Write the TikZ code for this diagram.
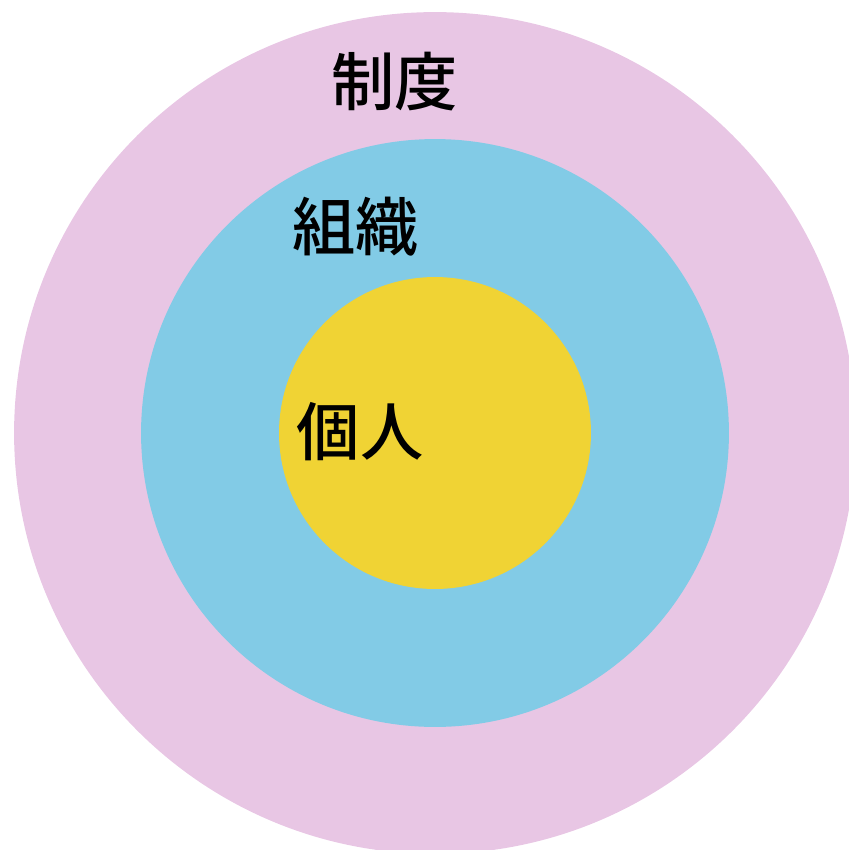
\documentclass[tikz,border=0pt]{standalone}
\usepackage{fontspec}
\newfontfamily\cjk{Noto Sans CJK JP Medium}
\definecolor{seidopink}{HTML}{E8C6E4}
\definecolor{soshikiblue}{HTML}{82CBE6}
\definecolor{kojinyellow}{HTML}{F0D334}

\begin{document}
\begin{tikzpicture}[x=0.02cm, y=-0.02cm, ring/.style = {circle, inner sep=0pt}, label/.style = {font=\cjk\fontsize{36}{40}\selectfont}]
      \useasboundingbox (0,0) rectangle (849,850);
      \begin{scope}
      \clip (0,0) rectangle (849,850);
      \node[ring, fill=seidopink, minimum size=16.84cm] (seido) at (435,433) {};
      \node[ring, fill=soshikiblue, minimum size=11.76cm] (soshiki) at (435,433) {};
      \node[ring, fill=kojinyellow, minimum size=6.24cm] (kojin) at (435,433) {};
      \end{scope}
      \node[label] (seidotext) at (395,82) {制度};
      \node[label] (soshikitext) at (356,227) {組織};
      \node[label] (kojintext) at (360,432) {個人};
\end{tikzpicture}
\end{document}
